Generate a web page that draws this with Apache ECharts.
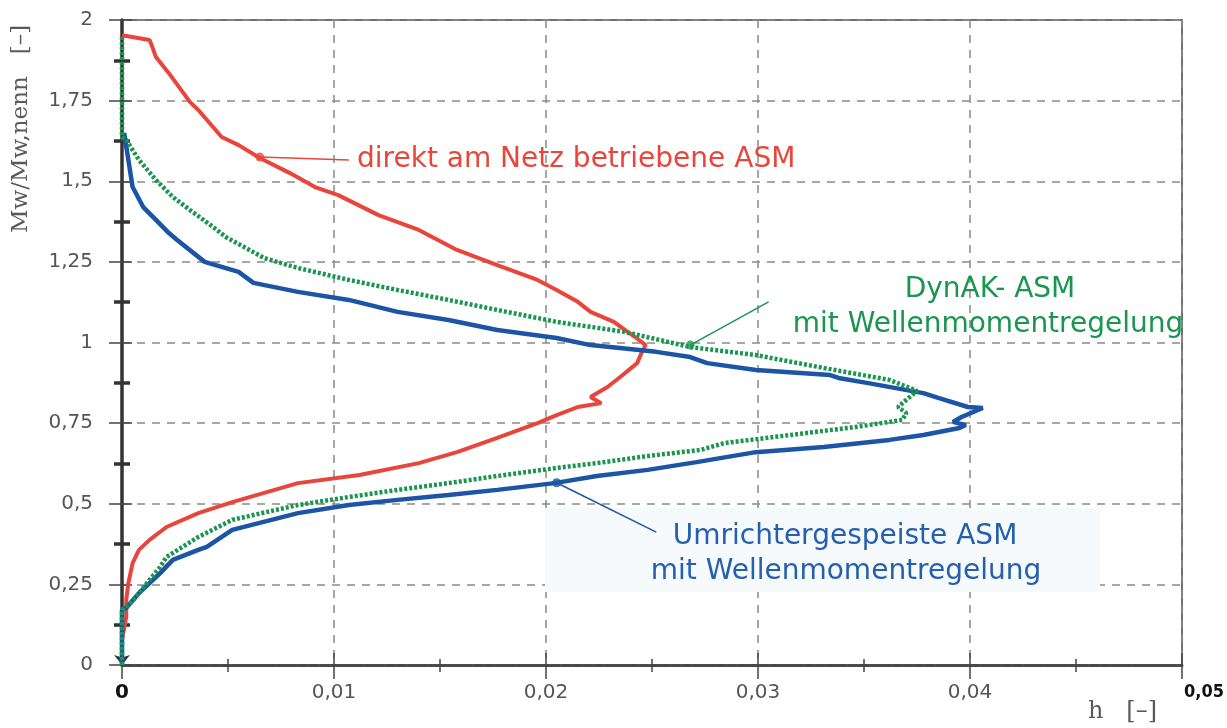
<!DOCTYPE html>
<html>
<head>
<meta charset="utf-8">
<script src="https://cdn.jsdelivr.net/npm/echarts@6/dist/echarts.min.js"></script>
<style>
  html, body { margin: 0; padding: 0; background: #ffffff; }
  #chart { width: 1227px; height: 728px; }
</style>
</head>
<body>
<div id="chart"></div>
<script>
// Relative frequency h of the normalised shaft torque Mw/Mw,nenn
// Each curve is listed in drawing order (h value, torque value).

// direkt am Netz betriebene ASM
const redH = [0, 0.0013, 0.0014, 0.0016, 0.0022, 0.0032, 0.0036, 0.0047, 0.0055, 0.0065,
  0.0079, 0.0091, 0.0102, 0.0121, 0.0140, 0.0158, 0.0177, 0.0196, 0.0205, 0.0215,
  0.0221, 0.0232, 0.0242, 0.0247, 0.0245, 0.0243, 0.0235, 0.0229, 0.0221, 0.0226,
  0.0215, 0.0205, 0.0196, 0.0177, 0.0158, 0.0140, 0.0112, 0.0083, 0.0052, 0.0036,
  0.0021, 0.0013, 0.0008, 0.0005, 0.0003, 0.0002, 0.0002, 0.0000, 0];
const redM = [1.953, 1.938, 1.922, 1.885, 1.836, 1.746, 1.721, 1.637, 1.612, 1.572,
  1.526, 1.482, 1.457, 1.395, 1.349, 1.287, 1.240, 1.194, 1.163, 1.126,
  1.095, 1.064, 1.017, 0.992, 0.967, 0.936, 0.893, 0.862, 0.831, 0.812,
  0.800, 0.775, 0.750, 0.704, 0.660, 0.626, 0.589, 0.564, 0.505, 0.471,
  0.428, 0.388, 0.357, 0.316, 0.254, 0.202, 0.149, 0.078, 0];

// Umrichtergespeiste ASM mit Wellenmomentregelung
const blueH = [0, 0, 0.0002, 0.0004, 0.0008, 0.0013, 0.0018, 0.0024, 0.0036, 0.0040,
  0.0052, 0.0083, 0.0107, 0.0130, 0.0154, 0.0177, 0.0204, 0.0224, 0.0248, 0.0271,
  0.0299, 0.0331, 0.0362, 0.0378, 0.0395, 0.0398, 0.0392, 0.0396, 0.0406, 0.0399,
  0.0385, 0.0378, 0.0352, 0.0338, 0.0334, 0.0299, 0.0276, 0.0268, 0.0252, 0.0221,
  0.0205, 0.0177, 0.0154, 0.0130, 0.0107, 0.0083, 0.0062, 0.0055, 0.0039, 0.0026,
  0.0022, 0.0016, 0.0010, 0.0005, 0.0003, 0.0001];
const blueM = [0, 0.171, 0.177, 0.192, 0.223, 0.254, 0.285, 0.326, 0.357, 0.366,
  0.419, 0.471, 0.496, 0.512, 0.527, 0.543, 0.564, 0.586, 0.605, 0.629,
  0.660, 0.676, 0.698, 0.713, 0.735, 0.744, 0.754, 0.769, 0.797, 0.800,
  0.828, 0.843, 0.874, 0.890, 0.899, 0.915, 0.936, 0.955, 0.971, 0.992,
  1.014, 1.039, 1.070, 1.095, 1.132, 1.157, 1.185, 1.219, 1.250, 1.318,
  1.340, 1.380, 1.420, 1.482, 1.566, 1.650];

// DynAK- ASM mit Wellenmomentregelung
const greenH = [0, 0, 0.0004, 0.0008, 0.0013, 0.0018, 0.0021, 0.0036, 0.0052, 0.0068,
  0.0083, 0.0107, 0.0130, 0.0154, 0.0177, 0.0205, 0.0224, 0.0248, 0.0273, 0.0284,
  0.0315, 0.0346, 0.0368, 0.0370, 0.0366, 0.0371, 0.0375, 0.0362, 0.0331, 0.0299,
  0.0268, 0.0237, 0.0205, 0.0177, 0.0154, 0.0130, 0.0107, 0.0083, 0.0067, 0.0049,
  0.0043, 0.0032, 0.0024, 0.0016, 0.0008, 0.0002, 0, 0];
const greenM = [0, 0.171, 0.192, 0.223, 0.264, 0.304, 0.335, 0.397, 0.450, 0.474,
  0.496, 0.521, 0.543, 0.564, 0.586, 0.611, 0.626, 0.648, 0.667, 0.688,
  0.713, 0.738, 0.760, 0.781, 0.800, 0.828, 0.850, 0.884, 0.921, 0.961,
  0.986, 1.033, 1.064, 1.101, 1.132, 1.163, 1.194, 1.231, 1.262, 1.327,
  1.358, 1.411, 1.451, 1.504, 1.566, 1.628, 1.637, 1.953];

// label anchor dots on the curves (red, green, blue) and where their leader lines end
const markerH = [0.0065, 0.0268, 0.0205];
const markerM = [1.575, 0.992, 0.565];
const leaderEndH = [0.0107, 0.0305, 0.0252];
const leaderEndM = [1.566, 1.126, 0.412];

const curveNames = ['direkt am Netz betriebene ASM', 'DynAK- ASM mit Wellenmomentregelung', 'Umrichtergespeiste ASM mit Wellenmomentregelung'];

const RED = '#e8463c', BLUE = '#1c55a6', GREEN = '#1a9650';
const markerColors = [RED, GREEN, BLUE];

const zip = (a, b) => a.map((v, i) => [v, b[i]]);
const comma = v => (Math.round(v * 1000) / 1000).toString().replace('.', ',');

const chart = echarts.init(document.getElementById('chart'));

const gridDash = { color: '#8a8a8a', width: 1.5, type: [8, 7] };
const tickFont = { fontFamily: 'DejaVu Sans', fontSize: 20, color: '#555555' };
const noteFont = '28px "DejaVu Sans"';

const leaderSeries = markerH.map((h, i) => ({
  type: 'line',
  data: [[h, markerM[i]], [leaderEndH[i], leaderEndM[i]]],
  showSymbol: false,
  silent: true,
  z: 3,
  lineStyle: { color: markerColors[i], width: 1.5 }
}));

chart.setOption({
  animation: false,
  backgroundColor: '#ffffff',
  grid: {
    left: 122, right: 39, top: 20, bottom: 63,
    show: true, borderColor: '#707070', borderWidth: 2, backgroundColor: 'transparent'
  },
  xAxis: [
    {
      type: 'value', min: 0, max: 0.05, interval: 0.01, position: 'bottom',
      axisLine: { show: true, lineStyle: { color: '#4a4a4a', width: 3, type: [9, 2] } },
      axisTick: { show: true, length: 14, lineStyle: { color: '#444', width: 1.5 } },
      minorTick: { show: true, splitNumber: 2, length: 7, lineStyle: { color: '#444', width: 1.5 } },
      splitLine: { show: true, lineStyle: gridDash },
      axisLabel: {
        margin: 18, ...tickFont,
        formatter: v => {
          if (Math.abs(v) < 1e-9) return '{b|0}';
          if (Math.abs(v - 0.05) < 1e-9) return '{e|0,05}';
          return comma(v);
        },
        rich: {
          b: { fontFamily: 'DejaVu Sans', fontWeight: 'bold', fontSize: 20, color: '#111' },
          e: { fontFamily: 'DejaVu Sans Condensed', fontWeight: 'bold', fontSize: 18, color: '#111', padding: [0, 0, 6, 44] }
        }
      }
    },
    {
      type: 'value', min: 0, max: 0.05, interval: 0.01, position: 'bottom', gridIndex: 0,
      axisLine: { show: false },
      axisTick: { show: true, inside: true, length: 12, lineStyle: { color: '#444', width: 1.5 } },
      minorTick: { show: true, splitNumber: 2, length: 6, lineStyle: { color: '#444', width: 1.5 } },
      splitLine: { show: false },
      axisLabel: { show: false }
    }
  ],
  yAxis: [
    {
      type: 'value', min: 0, max: 2, interval: 0.25, position: 'left',
      axisLine: {
        show: true, symbol: ['arrow', 'none'], symbolSize: [12, 10],
        lineStyle: { color: '#333', width: 3.5 }
      },
      axisTick: { show: true, length: 13, lineStyle: { color: '#444', width: 1.5 } },
      minorTick: { show: true, splitNumber: 2, length: 8, lineStyle: { color: '#333', width: 3.5 } },
      splitLine: { show: true, lineStyle: gridDash },
      axisLabel: { margin: 29, ...tickFont, formatter: v => comma(v) }
    },
    {
      type: 'value', min: 0, max: 2, interval: 0.25, position: 'left', gridIndex: 0,
      axisLine: { show: false },
      axisTick: { show: true, inside: true, length: 10, lineStyle: { color: '#444', width: 1.5 } },
      minorTick: { show: true, splitNumber: 2, length: 8, lineStyle: { color: '#333', width: 3.5 } },
      splitLine: { show: false },
      axisLabel: { show: false }
    }
  ],
  series: [
    {
      name: curveNames[0], type: 'line', data: zip(redH, redM),
      showSymbol: false, z: 4,
      lineStyle: { color: RED, width: 4 }
    },
    {
      name: curveNames[2], type: 'line', data: zip(blueH, blueM),
      showSymbol: false, z: 4,
      lineStyle: { color: BLUE, width: 4.5 }
    },
    {
      name: curveNames[1], type: 'line', data: zip(greenH, greenM),
      showSymbol: false, z: 5,
      lineStyle: { color: GREEN, width: 4.5, type: [3, 2] }
    },
    ...leaderSeries,
    {
      type: 'scatter', z: 6,
      data: markerH.map((h, i) => ({ value: [h, markerM[i]], itemStyle: { color: markerColors[i] } })),
      symbolSize: 9
    }
  ],
  graphic: [
    // soft panel behind the converter-fed label
    { type: 'rect', z: 1, silent: true, shape: { x: 545, y: 508, width: 555, height: 84 }, style: { fill: '#f7fafd' } },
    { type: 'text', z: 10, x: 357, y: 160, style: { text: 'direkt am Netz betriebene ASM', fill: RED, font: noteFont, textAlign: 'left', textVerticalAlign: 'middle' } },
    { type: 'text', z: 10, x: 990, y: 290, style: { text: 'DynAK- ASM', fill: GREEN, font: noteFont, textAlign: 'center', textVerticalAlign: 'middle' } },
    { type: 'text', z: 10, x: 988, y: 325, style: { text: 'mit Wellenmomentregelung', fill: GREEN, font: noteFont, textAlign: 'center', textVerticalAlign: 'middle' } },
    { type: 'text', z: 10, x: 845, y: 537, style: { text: 'Umrichtergespeiste ASM', fill: '#2460ad', font: noteFont, textAlign: 'center', textVerticalAlign: 'middle' } },
    { type: 'text', z: 10, x: 846, y: 572, style: { text: 'mit Wellenmomentregelung', fill: '#2460ad', font: noteFont, textAlign: 'center', textVerticalAlign: 'middle' } },
    // axis titles
    { type: 'text', z: 10, x: 21, y: 233, rotation: Math.PI / 2, style: { text: 'Mw/Mw,nenn   [–]', fill: '#5a5a5a', font: '23px "DejaVu Serif"', textAlign: 'left', textVerticalAlign: 'middle' } },
    { type: 'text', z: 10, x: 1088, y: 712, style: { text: 'h   [–]', fill: '#5a5a5a', font: '24px "DejaVu Serif"', textAlign: 'left', textVerticalAlign: 'middle' } }
  ]
});
</script>
</body>
</html>
